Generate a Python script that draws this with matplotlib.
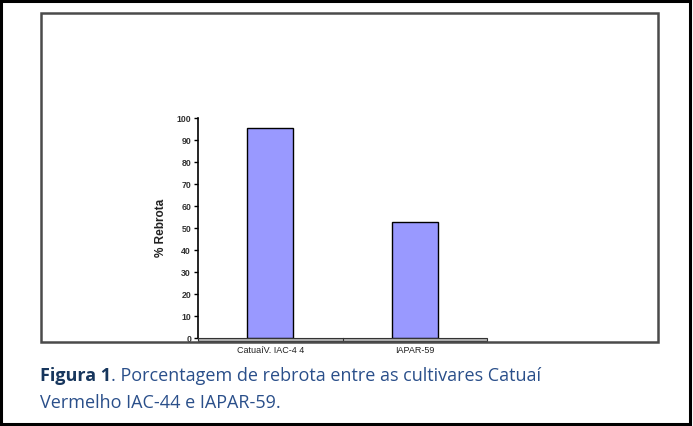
import matplotlib.pyplot as plt
from matplotlib.patches import Rectangle
from matplotlib.transforms import blended_transform_factory

# data
cultivares = ["CatuaíV. IAC-4 4", "IAPAR-59"]
rebrota = [95.3, 52.8]
yticks = list(range(0, 101, 10))

fig = plt.figure(figsize=(6.93, 4.26), dpi=100)
fig.patch.set_facecolor("white")

# outer black border of the whole picture
fig.add_artist(Rectangle((0.002, 0.004), 0.994, 0.993, transform=fig.transFigure,
                         fill=False, edgecolor="black", linewidth=2.2))

# gray chart frame
fig.add_artist(Rectangle((41 / 693, 1 - 342 / 426), 617 / 693, 329 / 426,
                         transform=fig.transFigure, fill=False,
                         edgecolor="#4a4a4a", linewidth=1.8))

ax = fig.add_axes([198 / 693, 1 - 338 / 426, 289 / 693, 220 / 426])
x = range(len(cultivares))
ax.bar(x, rebrota, width=0.32, color="#9999ff", edgecolor="black", linewidth=1.0, zorder=3)

ax.set_xlim(-0.5, 1.5)
ax.set_ylim(0, 100)
ax.set_yticks(yticks)
ax.set_yticklabels([str(t) for t in yticks], fontsize=6.3, family="Liberation Sans",
                   fontweight="bold", color="#333333")
ax.set_xticks(list(x))
ax.set_xticklabels(cultivares, fontsize=6.5, family="Liberation Sans", color="#222222")
ax.tick_params(axis="y", length=3, width=1, direction="out", pad=2)
ax.tick_params(axis="x", length=0, pad=6)

for s in ["top", "right"]:
    ax.spines[s].set_visible(False)
ax.spines["left"].set_linewidth(1.2)
ax.spines["bottom"].set_visible(False)

# 3d-like floor of the chart
tr = blended_transform_factory(ax.transAxes, ax.transData)
ax.add_patch(Rectangle((0, -1.3), 1, 1.3, transform=tr, clip_on=False,
                       facecolor="#b0b0b0", edgecolor="#333333", linewidth=0.8, zorder=4))
ax.plot([0.5, 0.5], [-1.3, 0], transform=tr, color="#333333", lw=0.8, clip_on=False, zorder=5)

ax.set_ylabel("% Rebrota", fontsize=8.5, family="Liberation Sans", fontweight="bold",
              color="#222222", labelpad=7)

# caption
fs = 13
t1 = fig.text(40 / 693, 1 - 381 / 426, "Figura 1", fontsize=fs, family="Open Sans",
              fontweight="bold", color="#17365d", va="baseline")
ax.annotate(". Porcentagem de rebrota entre as cultivares Catuaí", xy=(1, 0),
            xycoords=t1, va="bottom", fontsize=fs, family="Open Sans", color="#2a4f8a",
            annotation_clip=False)
fig.text(40 / 693, 1 - 408 / 426, "Vermelho IAC-44 e IAPAR-59.", fontsize=fs,
         family="Open Sans", color="#2a4f8a", va="baseline")

fig.savefig("out.png", dpi=100)
